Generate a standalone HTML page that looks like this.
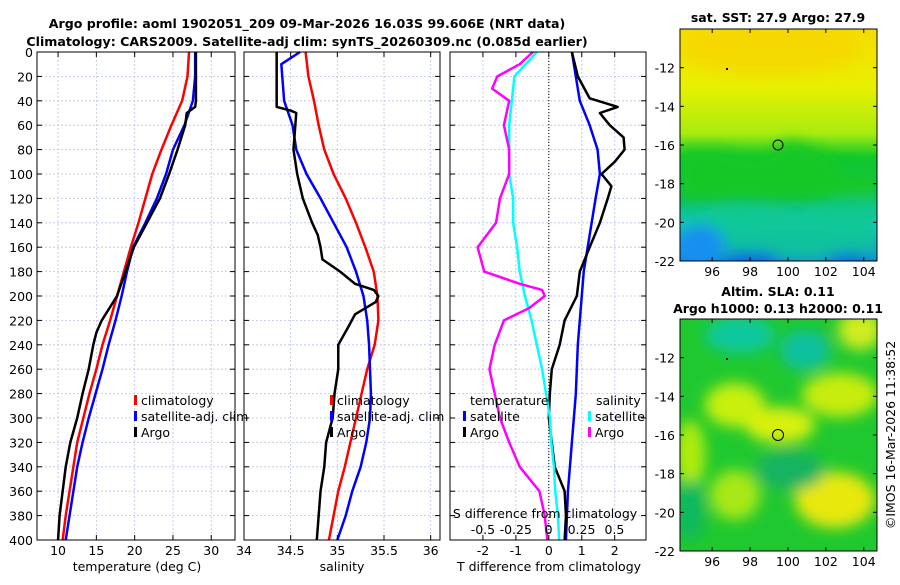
<!DOCTYPE html>
<html><head><meta charset="utf-8"><style>
body{margin:0;background:#fff;}
svg{font-family:"DejaVu Sans","Liberation Sans",sans-serif;}
</style></head><body>
<svg id="c" width="900" height="580" xmlns="http://www.w3.org/2000/svg">
<defs>
<filter id="blur6" x="-30%" y="-30%" width="160%" height="160%"><feGaussianBlur stdDeviation="7"/></filter>
<clipPath id="clipTop"><rect x="680" y="29" width="197" height="232"/></clipPath>
<clipPath id="clipBot"><rect x="680" y="319" width="197" height="232"/></clipPath>
<linearGradient id="sstGrad" x1="0" y1="0" x2="0" y2="1">
<stop offset="0" stop-color="#f5dc00"/><stop offset="0.25" stop-color="#e8f000"/><stop offset="0.45" stop-color="#a8ec10"/>
<stop offset="0.55" stop-color="#12c828"/><stop offset="0.72" stop-color="#0ec060"/><stop offset="0.85" stop-color="#10c8c0"/><stop offset="1" stop-color="#1080e8"/></linearGradient>
</defs>
<g id="titles">
<text x="307" y="28" text-anchor="middle" font-size="12.6" font-weight="bold">Argo profile: aoml 1902051_209 09-Mar-2026 16.03S 99.606E (NRT data)</text>
<text x="307" y="46" text-anchor="middle" font-size="12.6" font-weight="bold">Climatology: CARS2009. Satellite-adj clim: synTS_20260309.nc (0.085d earlier)</text>
</g>
<g id="plots"></g>
<g id="maps">
<text x="778" y="22" text-anchor="middle" font-size="12.5" font-weight="bold">sat. SST: 27.9 Argo: 27.9</text>
<g clip-path="url(#clipTop)">
<rect x="680" y="29" width="197" height="232" fill="url(#sstGrad)"/>
<g filter="url(#blur6)">
<path d="M680 150 L720 150 L760 160 L790 140 L820 150 L850 175 L877 170 L877 200 L680 200Z" fill="#18c828"/>
<path d="M680 220 L740 205 L800 215 L840 200 L877 198 L877 261 L680 261Z" fill="#10c890" opacity="0.8"/>
<ellipse cx="700" cy="245" rx="25" ry="20" fill="#1890f0"/>
<ellipse cx="750" cy="262" rx="30" ry="10" fill="#1060e0"/>
<ellipse cx="850" cy="262" rx="25" ry="8" fill="#1060e0"/>
<ellipse cx="770" cy="50" rx="90" ry="25" fill="#f8d400" opacity="0.7"/>
</g>
</g>
<rect x="680" y="29" width="197" height="232" fill="none" stroke="#000"/>
<circle cx="778" cy="145" r="5" fill="none" stroke="#000"/>
<rect x="726" y="68" width="2" height="2" fill="#000"/>
<text x="778" y="296" text-anchor="middle" font-size="12.5" font-weight="bold">Altim. SLA: 0.11</text>
<text x="778" y="313" text-anchor="middle" font-size="12.5" font-weight="bold">Argo h1000: 0.13 h2000: 0.11</text>
<g clip-path="url(#clipBot)">
<rect x="680" y="319" width="197" height="232" fill="#20c830"/>
<g filter="url(#blur6)">
<ellipse cx="740" cy="335" rx="35" ry="18" fill="#10c8a0"/>
<ellipse cx="805" cy="350" rx="25" ry="20" fill="#10c0a0"/>
<ellipse cx="860" cy="330" rx="22" ry="20" fill="#d0ec20"/>
<ellipse cx="735" cy="405" rx="30" ry="22" fill="#c8f010"/>
<ellipse cx="780" cy="425" rx="35" ry="18" fill="#d8f010"/>
<ellipse cx="840" cy="395" rx="38" ry="22" fill="#c8ec10"/>
<ellipse cx="690" cy="455" rx="15" ry="35" fill="#b0ec10"/>
<ellipse cx="735" cy="495" rx="25" ry="25" fill="#a8e818"/>
<ellipse cx="835" cy="500" rx="40" ry="28" fill="#e8e810"/>
<ellipse cx="690" cy="510" rx="15" ry="30" fill="#10b860"/>
<ellipse cx="790" cy="470" rx="35" ry="20" fill="#14b460"/>
</g>
</g>
<rect x="680" y="319" width="197" height="232" fill="none" stroke="#000"/>
<circle cx="778" cy="435" r="5.5" fill="none" stroke="#000"/>
<rect x="726" y="358" width="2" height="2" fill="#000"/>
<text transform="translate(895,435) rotate(-90)" text-anchor="middle" font-size="12.5">©IMOS 16-Mar-2026 11:38:52</text>
</g>
</svg>
<script>
// ---- data ----
const depthsClim = [0,20,40,60,80,100,120,140,160,180,200,220,240,260,280,300,320,340,360,380,400];
const tempClim = [27.1,26.9,26.2,24.8,23.5,22.3,21.4,20.5,19.5,18.6,17.7,16.8,15.8,15.0,14.1,13.3,12.5,12.0,11.5,11.0,10.6];
const tempSat = [27.9,27.9,27.6,26.5,25.0,24.1,22.9,21.4,19.8,19.0,18.3,17.5,16.6,15.8,14.9,14.0,13.2,12.5,12.0,11.5,11.0];
const depthsArgoT = [0,40,45,50,60,80,100,120,140,160,180,200,220,230,240,260,280,300,320,340,360,380,400];
const tempArgo = [28.0,28.0,27.9,26.8,26.6,25.6,24.5,23.3,21.6,19.9,18.8,17.7,15.7,15.0,14.6,14.0,13.2,12.5,11.6,11.0,10.6,10.2,10.0];
const salClim = [34.66,34.69,34.75,34.80,34.86,34.96,35.09,35.20,35.30,35.39,35.43,35.44,35.40,35.32,35.26,35.20,35.14,35.08,35.01,34.96,34.91];
const depthsSatS = [0,5,10,20,40,60,80,100,120,140,160,180,200,220,240,260,280,300,320,340,360,380,400];
const salSat = [34.60,34.50,34.40,34.41,34.43,34.52,34.56,34.67,34.82,34.96,35.10,35.20,35.28,35.32,35.34,35.35,35.36,35.35,35.31,35.25,35.16,35.09,35.00];
const depthsArgoS = [0,45,48,50,80,100,120,140,150,160,170,180,190,195,200,205,215,225,240,260,280,300,320,340,360,380,400];
const salArgo = [34.35,34.35,34.50,34.56,34.53,34.57,34.63,34.73,34.79,34.82,34.84,35.03,35.19,35.39,35.44,35.41,35.19,35.12,35.01,35.01,34.97,34.95,34.88,34.86,34.82,34.80,34.78];
const depthsDiff = [0,20,40,60,80,100,120,140,160,180,200,220,240,260,280,300,320,340,360,380,400];
const tDiffSat = [0.7,0.82,0.94,1.24,1.48,1.55,1.42,1.3,1.18,1.06,1.0,0.94,0.88,0.85,0.82,0.76,0.7,0.64,0.58,0.55,0.52];
const depthsTDiffArgo = [0,20,38,45,50,60,70,80,90,100,110,120,140,160,180,200,220,240,260,280,300,320,340,360,380,400];
const tDiffArgo = [0.7,0.88,1.24,2.09,1.55,1.85,2.27,2.3,2.0,1.6,1.9,1.79,1.55,1.24,0.94,0.85,0.48,0.33,0.09,0.03,0,0.09,0.18,0.48,0.52,0.48];
const sDiffSat = [-0.09,-0.26,-0.28,-0.30,-0.30,-0.30,-0.27,-0.27,-0.24,-0.22,-0.18,-0.13,-0.09,-0.05,-0.02,0.01,0.02,0.04,0.05,0.07,0.08];
const depthsSDiffArgo = [0,10,20,30,40,60,80,100,120,140,160,180,190,195,200,210,220,240,260,280,300,320,340,360,380,400];
const sDiffArgo = [-0.12,-0.22,-0.39,-0.43,-0.30,-0.34,-0.30,-0.30,-0.37,-0.40,-0.54,-0.49,-0.22,-0.05,-0.03,-0.15,-0.34,-0.41,-0.45,-0.41,-0.37,-0.30,-0.22,-0.07,-0.03,-0.01];
const depthTicks = [0,20,40,60,80,100,120,140,160,180,200,220,240,260,280,300,320,340,360,380,400];
const tTicks = [10,15,20,25,30];
const sTicks = [34,34.5,35,35.5,36];
const tdTicks = [-2,-1,0,1,2];
const sdTicks = [-0.5,-0.25,0,0.25,0.5];
const lonTicks = [96,98,100,102,104];
const latTicks = [-12,-14,-16,-18,-20,-22];

const NS='http://www.w3.org/2000/svg';
const root=document.getElementById('plots');
function mk(tag,attrs,parent){const e=document.createElementNS(NS,tag);for(const k in attrs)e.setAttribute(k,attrs[k]);(parent||root).appendChild(e);return e;}
const Y0=52,Y1=540;
const yS=d=>Y0+(d/400)*(Y1-Y0);
function lin(d0,d1,r0,r1){return v=>r0+(v-d0)/(d1-d0)*(r1-r0);}
const FS=12.5;

function panel(name,x0,x1,xs,ticks,showY){
  const g=mk('g',{});
  
  
  ticks.forEach(t=>{mk('line',{x1:xs(t),x2:xs(t),y1:Y0,y2:Y1,stroke:'#b8c0e8','stroke-width':0.8,'stroke-dasharray':'2,2'},g);});
  depthTicks.forEach(d=>{
    mk('line',{x1:x0,x2:x1,y1:yS(d),y2:yS(d),stroke:'#b8c0e8','stroke-width':0.8,'stroke-dasharray':'2,2'},g);
    mk('line',{x1:x0,x2:x0+5,y1:yS(d),y2:yS(d),stroke:'#000'},g);
    mk('line',{x1:x1-5,x2:x1,y1:yS(d),y2:yS(d),stroke:'#000'},g);
    if(showY){const t=mk('text',{x:x0-4,y:yS(d)+5,'text-anchor':'end','font-size':FS},g);t.textContent=d;
      
      }
  });
  return g;
}
function line(g,name,xs,vals,depths,color){
  const p=mk('polyline',{points:vals.map((v,i)=>xs(v)+','+yS(depths[i])).join(' '),fill:'none',stroke:color,'stroke-width':2.5,'stroke-linejoin':'round'},g);
  
  
}
function frame(g,x0,x1){mk('rect',{x:x0,y:Y0,width:x1-x0,height:Y1-Y0,fill:'none',stroke:'#000','stroke-width':1},g);}
function xlabels(g,xs,ticks,y){ticks.forEach(t=>{mk('line',{x1:xs(t),x2:xs(t),y1:Y1,y2:Y1-5,stroke:'#000'},g);mk('line',{x1:xs(t),x2:xs(t),y1:Y0,y2:Y0+5,stroke:'#000'},g);const e=mk('text',{x:xs(t),y:y,'text-anchor':'middle','font-size':FS},g);e.textContent=t;
  
  });}
function txt(g,name,x,y,s,anchor,size){const e=mk('text',{x:x,y:y,'text-anchor':anchor||'start','font-size':size||FS},g);e.textContent=s;
  
  return e;}
function leg(g,name,x,y,color,label){mk('rect',{x:x,y:y-10,width:3,height:10,fill:color},g);txt(g,name,x+7,y,label);}

// Panel 1: temperature
const xT=lin(7.25,33.1,37,235);
let g1=panel('temperature-panel',37,235,xT,tTicks,true);
line(g1,'temp-climatology-line',xT,tempClim,depthsClim,'#ff0000');
line(g1,'temp-satellite-line',xT,tempSat,depthsClim,'#0000ff');
line(g1,'temp-argo-line',xT,tempArgo,depthsArgoT,'#000');
frame(g1,37,235);xlabels(g1,xT,tTicks,555);
txt(g1,'temperature-x-axis-title',137,571,'temperature (deg C)','middle');
leg(g1,'legend-climatology',134,405,'#ff0000','climatology');
leg(g1,'legend-satellite-adj',134,421,'#0000ff','satellite-adj. clim');
leg(g1,'legend-argo',134,437,'#000','Argo');

// Panel 2: salinity
const xS=lin(34,36.1,244,440);
let g2=panel('salinity-panel',244,440,xS,sTicks,false);
line(g2,'sal-climatology-line',xS,salClim,depthsClim,'#ff0000');
line(g2,'sal-satellite-line',xS,salSat,depthsSatS,'#0000ff');
line(g2,'sal-argo-line',xS,salArgo,depthsArgoS,'#000');
frame(g2,244,440);xlabels(g2,xS,sTicks,555);
txt(g2,'salinity-x-axis-title',342,571,'salinity','middle');
leg(g2,'legend2-climatology',330,405,'#ff0000','climatology');
leg(g2,'legend2-satellite-adj',330,421,'#0000ff','satellite-adj. clim');
leg(g2,'legend2-argo',330,437,'#000','Argo');

// Panel 3: differences
const xD=lin(-3,2.95,450,646);
const xSD=lin(-0.75,0.74,450,646);
let g3=panel('difference-panel',450,646,xD,tdTicks,false);
mk('line',{x1:xD(0),x2:xD(0),y1:Y0,y2:Y1,stroke:'#000','stroke-dasharray':'1,2'},g3);
line(g3,'tdiff-satellite-line',xD,tDiffSat,depthsDiff,'#0000ff');
line(g3,'tdiff-argo-line',xD,tDiffArgo,depthsTDiffArgo,'#000');
line(g3,'sdiff-satellite-line',xSD,sDiffSat,depthsDiff,'#00ffff');
line(g3,'sdiff-argo-line',xSD,sDiffArgo,depthsSDiffArgo,'#ff00ff');
frame(g3,450,646);xlabels(g3,xD,tdTicks,555);
sdTicks.forEach(t=>{txt(g3,'sdiff-tick-label',xSD(t),534,String(t),'middle');});
txt(g3,'sdiff-axis-title',545,518,'S difference from climatology','middle');
txt(g3,'tdiff-x-axis-title',549,571,'T difference from climatology','middle');
txt(g3,'legend-temperature-header',470,405,'temperature');
leg(g3,'legend3-t-satellite',463,421,'#0000ff','satellite');
leg(g3,'legend3-t-argo',463,437,'#000','Argo');
txt(g3,'legend-salinity-header',596,405,'salinity');
leg(g3,'legend3-s-satellite',588,421,'#00ffff','satellite');
leg(g3,'legend3-s-argo',588,437,'#ff00ff','Argo');

// Map ticks
const mg=document.getElementById('maps');
const lonX=lin(94.3,104.7,680,877);
[[29,261],[319,551]].forEach(([t,b])=>{
  const latY=lin(-10,-22,t,b);
  lonTicks.forEach(l=>{mk('line',{x1:lonX(l),x2:lonX(l),y1:b,y2:b-4,stroke:'#000'},mg);mk('line',{x1:lonX(l),x2:lonX(l),y1:t,y2:t+4,stroke:'#000'},mg);
    txt(mg,'lon-tick-label',lonX(l),b+15,String(l),'middle');});
  latTicks.forEach(l=>{mk('line',{x1:680,x2:684,y1:latY(l),y2:latY(l),stroke:'#000'},mg);mk('line',{x1:873,x2:877,y1:latY(l),y2:latY(l),stroke:'#000'},mg);
    txt(mg,'lat-tick-label',675,latY(l)+5,String(l),'end');});
});
</script>
</body></html>
